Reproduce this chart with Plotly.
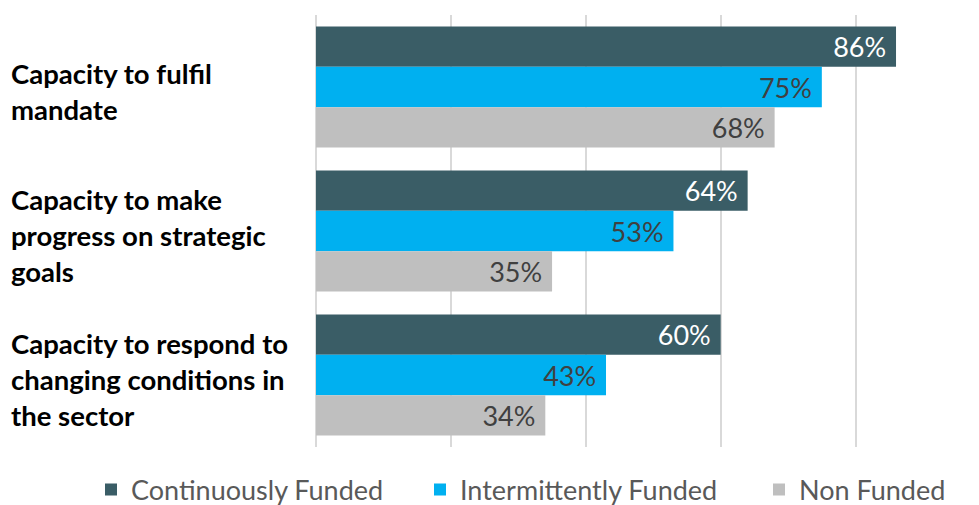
import plotly.graph_objects as go

# Survey outcome categories (top to bottom)
categories = [
    "Capacity to fulfil<br>mandate",
    "Capacity to make<br>progress on strategic<br>goals",
    "Capacity to respond to<br>changing conditions in<br>the sector",
]

# Share of respondents (%) per funding status
series_names = ["Continuously Funded", "Intermittently Funded", "Non Funded"]
continuously_funded = [86, 64, 60]
intermittently_funded = [75, 53, 43]
non_funded = [68, 35, 34]

series_values = [continuously_funded, intermittently_funded, non_funded]
bar_colors = ["#3A5D66", "#00B0F0", "#BFBFBF"]
label_colors = ["#FFFFFF", "#404040", "#404040"]

FONT = "Lato"
W, H = 979, 505
plot_left, plot_w = 316, 607

# one legend per series so each entry sits at its own horizontal position
legend_ids = ["legend", "legend2", "legend3"]
legend_left_px = [91, 420, 759]

fig = go.Figure()
for name, vals, col, lcol, lid in zip(series_names, series_values, bar_colors,
                                      label_colors, legend_ids):
    fig.add_trace(go.Bar(
        y=categories,
        x=vals,
        name=name,
        orientation="h",
        legend=lid,
        marker=dict(color=col, line=dict(width=0)),
        texttemplate="%{x}%\u00a0",
        textposition="inside",
        insidetextanchor="end",
        constraintext="none",
        textfont=dict(family=FONT, size=27, color=lcol),
        hoverinfo="skip",
    ))

# Left-aligned, bold category labels drawn line by line
line_step = 36
label_left_px = 12
for cat in categories:
    lines = cat.split("<br>")
    n = len(lines)
    for i, line in enumerate(lines):
        fig.add_annotation(
            x=(label_left_px - plot_left) / plot_w - 3 / plot_w,
            xref="paper", xanchor="left",
            y=cat, yref="y", yanchor="middle",
            yshift=-((i - (n - 1) / 2) * line_step) - 4,
            text=line, showarrow=False,
            font=dict(family=FONT, size=27.5, color="#000000", weight="bold"),
        )

legend_style = dict(
    orientation="h",
    xref="container", xanchor="left",
    yref="container", y=15 / H, yanchor="middle",
    font=dict(family=FONT, size=27, color="#595959"),
    itemwidth=30,
    bgcolor="rgba(0,0,0,0)",
)
legends = {
    lid: dict(legend_style, x=px / W)
    for lid, px in zip(legend_ids, legend_left_px)
}

fig.update_layout(
    width=W, height=H,
    margin=dict(l=plot_left, r=W - plot_left - plot_w, t=15, b=58, autoexpand=False),
    paper_bgcolor="white",
    plot_bgcolor="white",
    barmode="group",
    bargap=0.16,
    bargroupgap=0,
    showlegend=True,
    xaxis=dict(
        range=[0, 90],
        dtick=20,
        showgrid=True,
        gridcolor="#D9D9D9",
        gridwidth=1.5,
        showticklabels=False,
        zeroline=True,
        zerolinecolor="#D9D9D9",
        zerolinewidth=1.5,
        showline=False,
        fixedrange=True,
    ),
    yaxis=dict(
        autorange="reversed",
        showticklabels=False,
        showgrid=False,
        showline=False,
        zeroline=False,
        fixedrange=True,
    ),
    **legends,
)

fig.write_html("out.html")
